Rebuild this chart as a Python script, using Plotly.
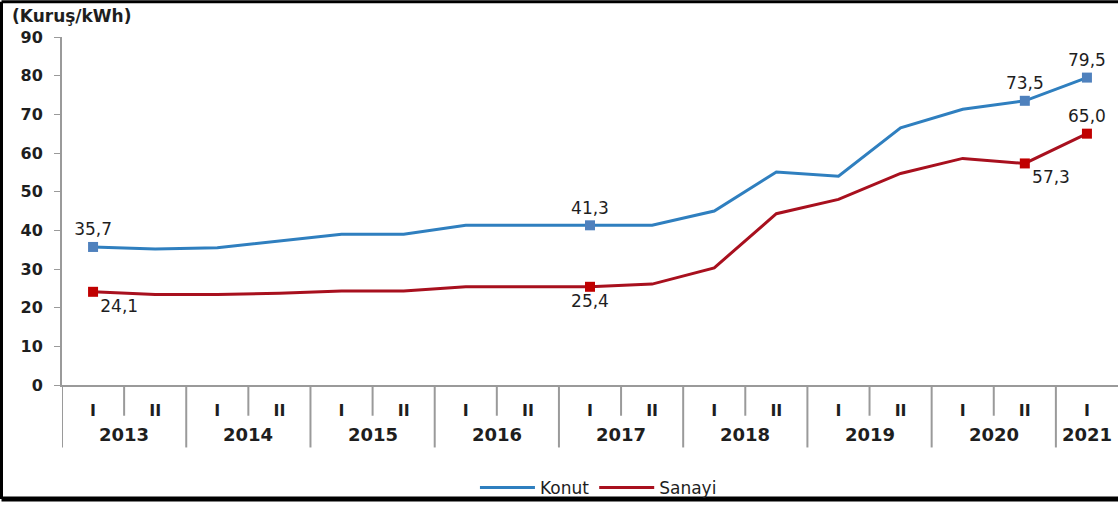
import plotly.graph_objects as go

years = ["2013", "2013", "2014", "2014", "2015", "2015", "2016", "2016", "2017", "2017",
         "2018", "2018", "2019", "2019", "2020", "2020", "2021"]
halves = ["I", "II"] * 8 + ["I"]

konut = [35.7, 35.2, 35.5, 37.3, 39.0, 39.0, 41.3, 41.3, 41.3, 41.3,
         45.0, 55.1, 54.0, 66.5, 71.3, 73.5, 79.5]
sanayi = [24.1, 23.4, 23.4, 23.7, 24.3, 24.3, 25.4, 25.4, 25.4, 26.1,
          30.3, 44.3, 48.0, 54.7, 58.6, 57.3, 65.0]

# which points get a marker + value label, and where the label goes
konut_lbl = {0: "top center", 8: "top center", 15: "top center", 16: "top center"}
sanayi_lbl = {0: "bottom right", 8: "bottom center", 15: "bottom right", 16: "top center"}

KONUT_LINE = "#2f7fbf"
KONUT_MARK = "#4f81bd"
SANAYI_LINE = "#a8101e"
SANAYI_MARK = "#c00000"
TXT = "#1e1e1e"
AXIS = "#9a9a9a"
FONT = "DejaVu Sans, Arial, sans-serif"

W, H = 1118, 506
ML, MR, MT, MB = 62, 0, 37, 118
PW, PH = W - ML - MR, H - MT - MB

periods = [f"{y} {h}" for y, h in zip(years, halves)]

fig = go.Figure()

fig.add_trace(go.Scatter(x=periods, y=konut, name="Konut", mode="lines",
                         line=dict(color=KONUT_LINE, width=3)))
fig.add_trace(go.Scatter(x=periods, y=sanayi, name="Sanayi", mode="lines",
                         line=dict(color=SANAYI_LINE, width=3)))


def label_trace(vals, lbl, color):
    idx = sorted(lbl)
    return go.Scatter(
        x=[periods[i] for i in idx],
        y=[vals[i] for i in idx],
        mode="markers+text",
        marker=dict(symbol="square", size=10, color=color),
        text=[f"{vals[i]:.1f}".replace(".", ",") for i in idx],
        textposition=[lbl[i] for i in idx],
        textfont=dict(size=17, color=TXT, family=FONT),
        showlegend=False, hoverinfo="skip", cliponaxis=False,
    )


fig.add_trace(label_trace(konut, konut_lbl, KONUT_MARK))
fig.add_trace(label_trace(sanayi, sanayi_lbl, SANAYI_MARK))

# axis decoration: half-year separators, year dividers, year labels
shapes, annotations = [], []
sep = dict(color=AXIS, width=2)
for i in range(len(halves) - 1):
    if years[i] == years[i + 1]:
        shapes.append(dict(type="line", xref="x", yref="paper", x0=i + 0.5, x1=i + 0.5,
                           y0=0, y1=-31 / PH, line=sep))
year_list = list(dict.fromkeys(years))
for yr in year_list:
    idx = [i for i, y in enumerate(years) if y == yr]
    shapes.append(dict(type="line", xref="x", yref="paper", x0=idx[0] - 0.5, x1=idx[0] - 0.5,
                       y0=0, y1=-63 / PH, line=sep))
    annotations.append(dict(text=yr, xref="x", yref="paper", x=sum(idx) / len(idx),
                            y=-50 / PH, xanchor="center", yanchor="middle", showarrow=False,
                            font=dict(size=18, color=TXT, weight="bold")))

# black frame (left, top, bottom)
fx0 = (1.5 - ML) / PW
fy_top = 1 + (MT - 1.5) / PH
fy_bot = -(503 - (MT + PH)) / PH
frame = dict(color="black", width=3)
shapes += [
    dict(type="line", xref="paper", yref="paper", x0=fx0, x1=fx0, y0=fy_bot, y1=fy_top, line=frame),
    dict(type="line", xref="paper", yref="paper", x0=fx0, x1=1.01, y0=fy_top, y1=fy_top, line=frame),
    dict(type="line", xref="paper", yref="paper", x0=fx0, x1=1.01, y0=fy_bot, y1=fy_bot,
         line=dict(color="black", width=5)),
]

annotations.append(dict(text="<b>(Kuruş/kWh)</b>", xref="paper", yref="paper",
                        x=(10 - ML) / PW, y=1 + (MT - 16) / PH, xanchor="left", yanchor="middle",
                        showarrow=False, font=dict(size=17, color=TXT)))

fig.update_layout(
    width=W, height=H,
    margin=dict(l=ML, r=MR, t=MT, b=MB),
    paper_bgcolor="white", plot_bgcolor="white",
    font=dict(family=FONT, color=TXT, size=15),
    shapes=shapes,
    annotations=annotations,
    showlegend=True,
    legend=dict(orientation="h", x=0.508, xanchor="center", y=-(492 - (MT + PH)) / PH,
                yanchor="middle", font=dict(size=17, color=TXT), itemwidth=55,
                bgcolor="rgba(0,0,0,0)"),
)

fig.update_yaxes(range=[0, 90], dtick=10, showgrid=False, zeroline=False,
                 showline=True, linecolor=AXIS, linewidth=2,
                 ticks="outside", ticklen=6, tickcolor=AXIS, tickwidth=1,
                 ticklabelstandoff=8, tickfont=dict(size=16, color=TXT, weight="bold"))
fig.update_xaxes(type="category", range=[-0.5, 16.5], showgrid=False,
                 showline=True, linecolor=AXIS, linewidth=2,
                 tickmode="array", tickvals=periods, ticktext=halves,
                 ticks="", ticklabelstandoff=10, tickangle=0,
                 tickfont=dict(size=16, color=TXT, weight="bold"))

fig.write_html("out.html", config={"displayModeBar": False},
               post_script="document.body.style.margin='0';")
